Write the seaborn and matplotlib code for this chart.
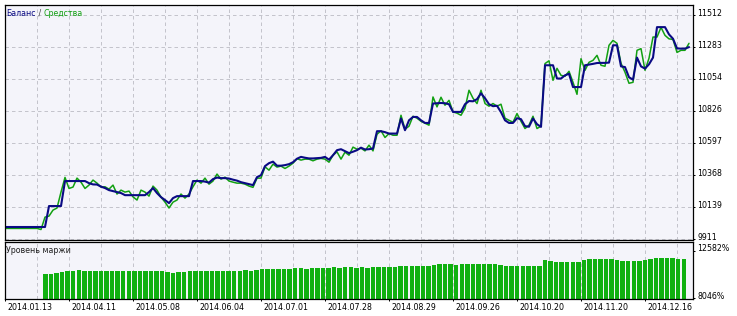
import numpy as np
import pandas as pd
import matplotlib
matplotlib.use("Agg")
import matplotlib.pyplot as plt
from matplotlib.transforms import ScaledTranslation
import seaborn as sns

# ---------------- data ----------------
balance = ([9997] * 11 + [10147] * 4 + [10326] * 6 +
           [10311, 10302, 10301, 10286, 10276, 10261, 10254, 10247, 10240] +
           [10225] * 6 +
           [10247, 10276, 10240, 10211, 10190, 10168, 10204] + [10218] * 4 +
           [10326] * 3 +
           [10322, 10315, 10340, 10351, 10347, 10347, 10344, 10336, 10329, 10318,
            10311, 10304, 10297, 10354, 10368, 10433, 10454, 10465, 10436, 10436,
            10440, 10447, 10461, 10486, 10499, 10493, 10488, 10488, 10490, 10492,
            10499, 10479, 10511, 10547, 10554, 10540, 10526, 10536, 10547, 10565,
            10552, 10554, 10559, 10683, 10683, 10676] + [10666] * 3 +
           [10774, 10690, 10761, 10785, 10785, 10761, 10742, 10742, 10881, 10883,
            10885, 10883, 10876] + [10821] * 3 +
           [10876, 10899, 10897, 10912, 10954, 10919, 10876, 10862, 10865, 10819,
            10761, 10742, 10742, 10776, 10769, 10719, 10715, 10774, 10733, 10714] +
           [11155] * 3 + [11060, 11060, 11083, 11094] + [10999] * 3 +
           [11155, 11160, 11165, 11171, 11172, 11172, 11174, 11298, 11298, 11147,
            11142, 11069, 11052, 11210, 11147, 11131, 11162, 11210] + [11428] * 3 +
           [11376, 11345, 11276, 11274, 11274, 11285])

equity = ([9987] * 9 +
          [9979, 10068, 10075, 10118, 10133, 10247, 10352, 10273, 10283, 10347,
           10318, 10273, 10297, 10333, 10311, 10283, 10285, 10268, 10297, 10233,
           10261, 10247, 10254, 10213, 10190, 10261, 10247, 10218, 10290, 10261,
           10211, 10175, 10133, 10175, 10190, 10233, 10204, 10233, 10285, 10333,
           10311, 10347, 10304, 10326, 10376, 10340, 10354, 10326, 10318, 10311,
           10311, 10304, 10290, 10281, 10347, 10347, 10428, 10404, 10447, 10426,
           10433, 10416, 10433, 10454, 10486, 10476, 10483, 10483, 10471, 10483,
           10488, 10483, 10461, 10511, 10535, 10483, 10533, 10511, 10569, 10554,
           10561, 10542, 10583, 10542, 10661, 10686, 10638, 10666, 10654, 10654,
           10797, 10697, 10719, 10790, 10776, 10754, 10740, 10726, 10928, 10857,
           10926, 10869, 10904, 10821, 10812, 10797, 10847, 10976, 10919, 10881,
           10976, 10881, 10862, 10881, 10862, 10876, 10776, 10761, 10747, 10809,
           10754, 10702, 10726, 10790, 10702, 10719, 11167, 11187, 11047, 11133,
           11083, 11076, 11112, 11033, 10947, 11202, 11119, 11176, 11190, 11226,
           11155, 11148, 11298, 11333, 11312, 11169, 11105, 11026, 11033, 11262,
           11274, 11119, 11205, 11357, 11357, 11426, 11369, 11344, 11340, 11247,
           11262, 11262, 11312])

margin = ([10330, 10380, 10430, 10600] +
          [10700, 10690, 10720, 10690, 10700, 10680, 10700, 10690, 10670, 10700,
           10690, 10680, 10700, 10690, 10660, 10690, 10680, 10650] +
          [10560, 10500, 10510, 10530] +
          [10640, 10680, 10690, 10670, 10690, 10680, 10700, 10690, 10680, 10700,
           10710, 10690] +
          [10760, 10800, 10840, 10820, 10850, 10830] +
          [10870, 10900, 10910, 10890, 10920, 10900, 10930] +
          [10960, 11000, 10980, 11010, 11000, 10970, 11000] +
          [10980, 11040, 11070, 11060, 11080] +
          [11060, 11150, 11170, 11160, 11180] +
          [11140, 11120, 11240, 11300, 11280] +
          [11290, 11260, 11330, 11360, 11350, 11300, 11370, 11340] +
          [11300, 11250, 11180, 11160, 11170, 11150, 11180, 11160, 11170] +
          [11713] +
          [11580, 11550, 11540, 11560, 11520, 11550] +
          [11760, 11780, 11770, 11790, 11800, 11770, 11700] +
          [11620, 11610, 11650, 11620] +
          [11700, 11780] +
          [11950, 11930, 11940, 11920] +
          [11820, 11800])

balance_ticks = [9911, 10139, 10368, 10597, 10826, 11054, 11283, 11512]
margin_ticks = [8046, 12582]
margin_tick_labels = ["8046%", "12582%"]
date_labels = ["2014.01.13", "2014.04.11", "2014.05.08", "2014.06.04", "2014.07.01",
               "2014.07.28", "2014.08.29", "2014.09.26", "2014.10.20", "2014.11.20",
               "2014.12.16"]

# ---------------- style ----------------
sns.set_theme(style="white")
plt.rcParams["font.family"] = ["DejaVu Sans"]
FS = 5.7
NAVY = "#0a0a84"
GREEN = "#12a012"
BARC = "#10b010"
BG = "#f4f4fa"
GRIDC = "#c4c4cc"
DASH = (0, (3.5, 3))

W, H = 737, 316
fig = plt.figure(figsize=(W / 100, H / 100), dpi=100, facecolor="white")


def rect(l, t, r, b):
    return [l / W, 1 - b / H, (r - l) / W, (b - t) / H]


ax = fig.add_axes(rect(4.5, 4.5, 693, 240))
ax2 = fig.add_axes(rect(4.5, 242, 693, 299))

n = len(balance)
df = pd.DataFrame({"step": np.arange(n), "balance": balance, "equity": equity[:n]})

sns.lineplot(data=df, x="step", y="equity", ax=ax, color=GREEN, linewidth=1.1)
sns.lineplot(data=df, x="step", y="balance", ax=ax, color=NAVY, linewidth=1.5)

XMAX = 172
ax.set_xlim(-0.125, XMAX)
ax.set_ylim(9904, 11590)
ax.set_facecolor(BG)
ax.set_axisbelow(True)
ax.set_xlabel("")
ax.set_ylabel("")
ax.yaxis.tick_right()
ax.set_yticks(balance_ticks)
ax.set_yticklabels([str(v) for v in balance_ticks])
ax.tick_params(axis="y", direction="out", length=1.5, width=0.72, pad=1.5,
               labelsize=FS, colors="black", right=True, left=False)
ax.set_xticks(np.arange(8, XMAX, 8))
ax.tick_params(axis="x", length=0, labelbottom=False, bottom=False)
ax.grid(True, color=GRIDC, linewidth=0.72, linestyle=DASH)
for sp in ax.spines.values():
    sp.set_color("black")
    sp.set_linewidth(0.9)

up = ScaledTranslation(0, 3 / 100, fig.dpi_scale_trans)
for lbl in ax.get_yticklabels():
    lbl.set_transform(lbl.get_transform() + up)

# legend text
t1 = ax.annotate("Баланс", xy=(6.5, H - 13.5), xycoords="figure pixels",
                 va="center", ha="left", fontsize=FS, color=NAVY)
t2 = ax.annotate(" / ", xy=(1, 0.5), xycoords=t1, va="center", ha="left",
                 fontsize=FS, color="#404040")
t3 = ax.annotate("Средства", xy=(1, 0.5), xycoords=t2, va="center", ha="left",
                 fontsize=FS, color=GREEN)

# ---------------- margin level bars ----------------
bar_pos = 10.125 + 1.3875 * np.arange(len(margin))
sns.barplot(x=bar_pos, y=margin, native_scale=True, ax=ax2, color=BARC,
            saturation=1, width=0.81, errorbar=None, linewidth=0)
ax2.set_xlim(-0.125, XMAX)
ax2.set_ylim(7950, 13450)
ax2.set_facecolor(BG)
ax2.set_axisbelow(True)
ax2.set_xlabel("")
ax2.set_ylabel("")
ax2.yaxis.tick_right()
ax2.set_yticks(margin_ticks)
ax2.set_yticklabels(margin_tick_labels)
ax2.tick_params(axis="y", direction="out", length=1.5, width=0.72, pad=1.5,
                labelsize=FS, colors="black", right=True, left=False)
for lbl in ax2.get_yticklabels():
    lbl.set_transform(lbl.get_transform() + up)

ax2.set_xticks(np.arange(0, 16 * len(date_labels), 16))
ax2.set_xticklabels(date_labels, ha="left")
ax2.set_xticks(np.arange(8, XMAX, 16), minor=True)
ax2.tick_params(axis="x", which="major", direction="out", length=1.5, width=0.72,
                pad=1.2, labelsize=FS, colors="black", bottom=True)
ax2.tick_params(axis="x", which="minor", length=0)
right = ScaledTranslation(2 / 100, 0, fig.dpi_scale_trans)
for lbl in ax2.get_xticklabels():
    lbl.set_transform(lbl.get_transform() + right)
ax2.grid(True, axis="x", which="both", color=GRIDC, linewidth=0.72, linestyle=DASH)
ax2.grid(False, axis="y")
for sp in ax2.spines.values():
    sp.set_color("black")
    sp.set_linewidth(0.9)

ax2.annotate("Уровень маржи", xy=(6.5, H - 250.5), xycoords="figure pixels",
             va="center", ha="left", fontsize=FS, color="#202020")

fig.savefig("out.png", dpi=100, facecolor="white")
